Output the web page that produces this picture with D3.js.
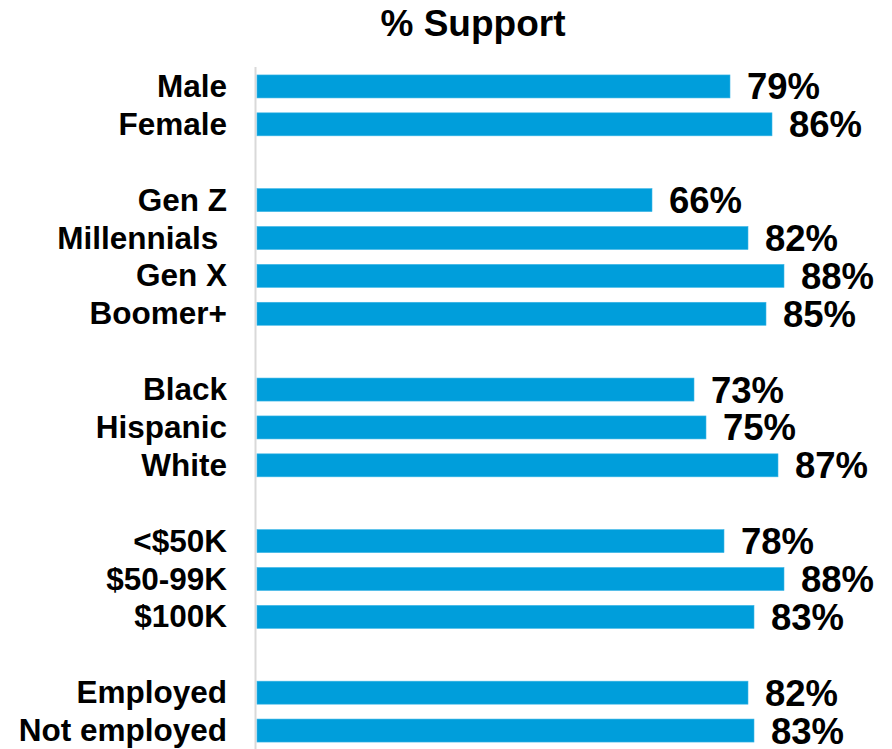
<!DOCTYPE html>
<html>
<head>
<meta charset="utf-8">
<script src="https://cdnjs.cloudflare.com/ajax/libs/d3/7.8.5/d3.min.js"></script>
<style>
  body { margin: 0; background: #fff; }
  text { font-family: "Liberation Sans", Arial, sans-serif; font-weight: bold; fill: #000; }
</style>
</head>
<body>
<script>
// rows in order, "" marks an empty spacer row between groups
const categories = ["Male", "Female", "",
  "Gen Z", "Millennials ", "Gen X", "Boomer+", "",
  "Black", "Hispanic", "White", "",
  "<$50K", "$50-99K", "$100K", "",
  "Employed", "Not employed"];
const values = [79, 86, null,
  66, 82, 88, 85, null,
  73, 75, 87, null,
  78, 88, 83, null,
  82, 83];

const barColor = "#009edb";

var width = 892,
  height = 749;

var svg = d3.select("body")
  .append("svg")
  .attr("width", width)
  .attr("height", height);

var rows = categories.map((c, i) => ({ key: "r" + i, label: c, value: values[i] }));

var xScale = d3.scaleLinear().domain([0, 100]).range([256, 856]);

var yScale = d3.scaleBand()
  .domain(rows.map((d) => d.key))
  .range([67.5, 749.5])
  .paddingInner(0.393)
  .paddingOuter(0.1965);

svg.append("text")
  .text("% Support")
  .attr("x", 473)
  .attr("y", 36)
  .attr("text-anchor", "middle")
  .style("font-size", "37px");

// vertical axis line
svg.append("line")
  .attr("x1", 255.5).attr("x2", 255.5)
  .attr("y1", 67).attr("y2", height)
  .attr("stroke", "#d9d9d9")
  .attr("stroke-width", 2);

var data = rows.filter((d) => d.value != null);

svg.selectAll(".bar")
  .data(data)
  .enter()
  .append("rect")
  .attr("class", "bar")
  .attr("x", xScale(0) + 1)
  .attr("y", (d) => yScale(d.key))
  .attr("width", (d) => xScale(d.value) - xScale(0) - 1)
  .attr("height", yScale.bandwidth())
  .style("fill", barColor)
  .style("stroke", "#3db6e6")
  .style("stroke-width", "0.6px");

svg.selectAll(".cat")
  .data(data)
  .enter()
  .append("text")
  .attr("class", "cat")
  .text((d) => d.label)
  .attr("x", 227)
  .attr("y", (d) => yScale(d.key) + yScale.bandwidth() / 2 + 10.5)
  .attr("text-anchor", "end")
  .style("white-space", "pre")
  .style("font-size", "31.5px");

svg.selectAll(".val")
  .data(data)
  .enter()
  .append("text")
  .attr("class", "val")
  .text((d) => d.value + "%")
  .attr("x", (d) => xScale(d.value) + 17)
  .attr("y", (d) => yScale(d.key) + yScale.bandwidth() / 2 + 13)
  .style("font-size", "36.5px");
</script>
</body>
</html>
